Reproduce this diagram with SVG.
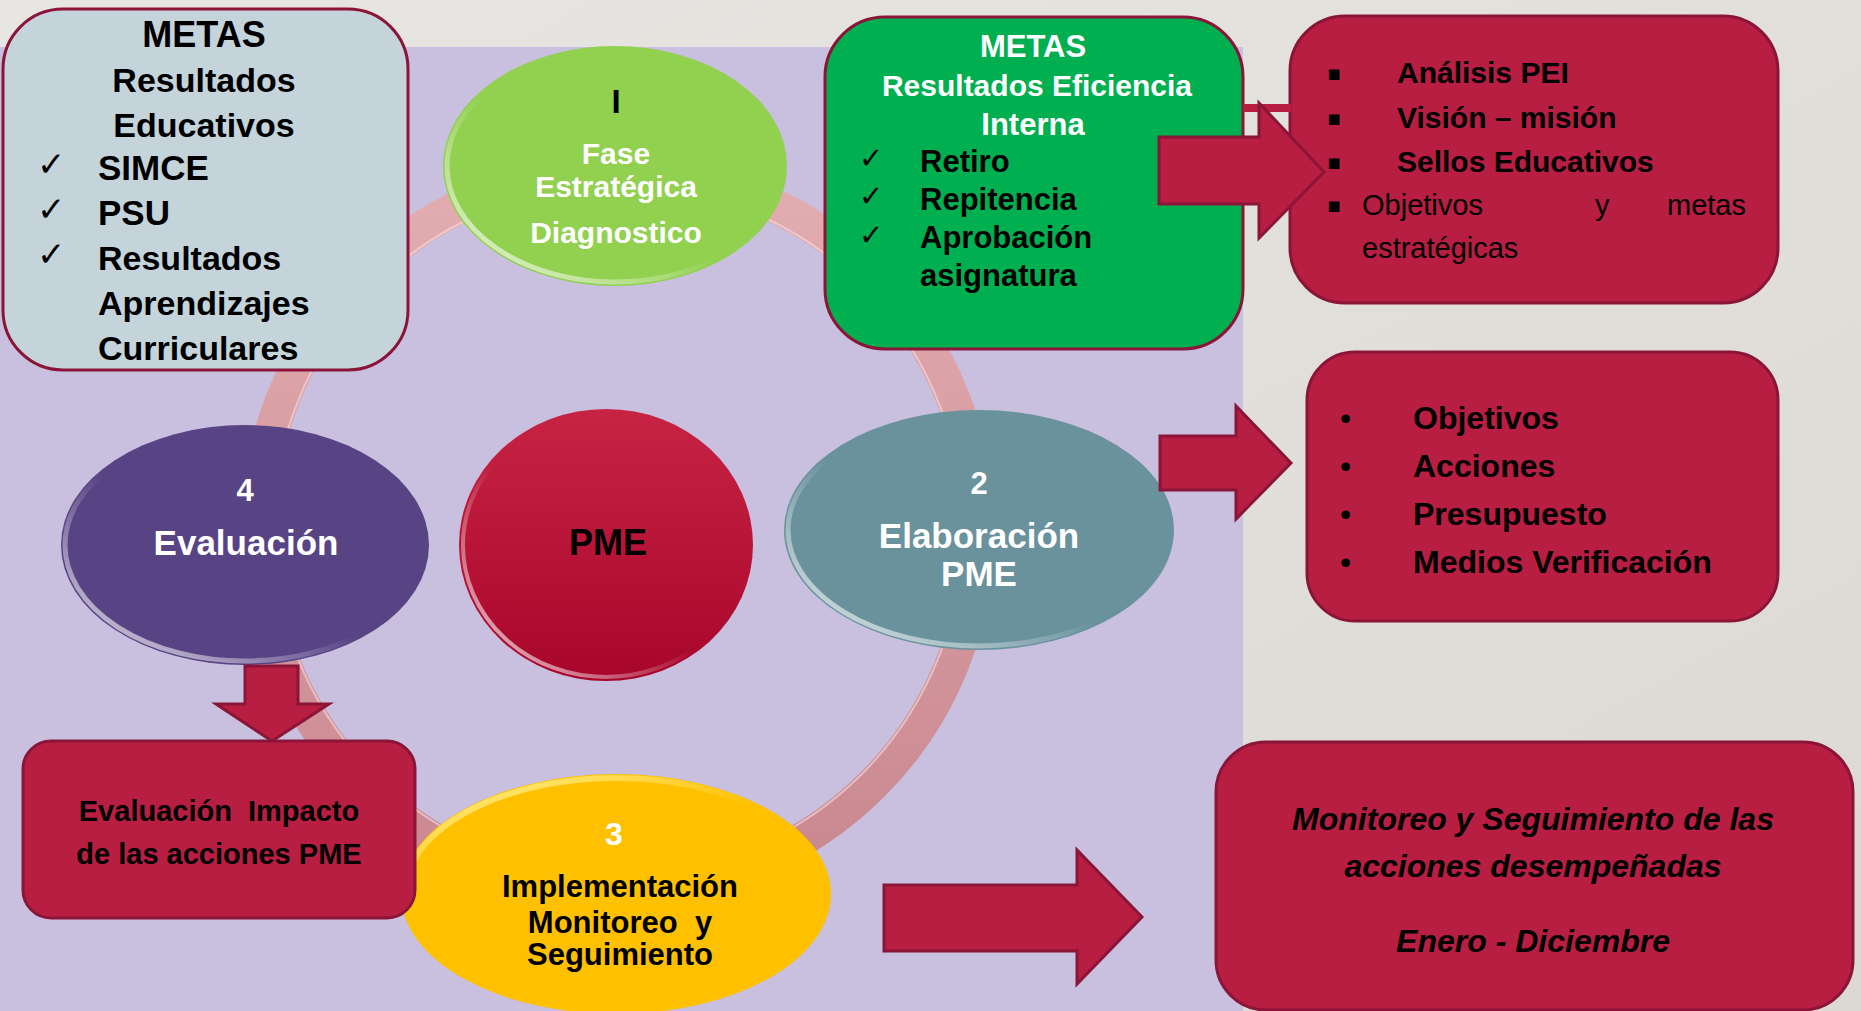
<svg xmlns="http://www.w3.org/2000/svg" width="1861" height="1011" viewBox="0 0 1861 1011">
<defs>
<style>
.t{font-family:"Liberation Sans",Arial,sans-serif;font-weight:bold;fill:#000}
.w{fill:#fff}
.r{font-weight:normal}
.i{font-style:italic}
.m{text-anchor:middle}
.ck{font-family:"DejaVu Sans",sans-serif;font-weight:bold;fill:#000}
.sq{font-family:"DejaVu Sans",sans-serif;font-weight:normal;fill:#000}
.box{stroke:#8a1538;stroke-width:3}
.red{fill:#b81d42}
.arrow{fill:#b81d42;stroke:#8a1538;stroke-width:3;stroke-linejoin:miter}
</style>
<linearGradient id="bg" x1="0" y1="0" x2="1" y2="1">
<stop offset="0" stop-color="#e8e6e2"/>
<stop offset="1" stop-color="#dcd9d3"/>
</linearGradient>
<linearGradient id="ringG" gradientUnits="userSpaceOnUse" x1="0" y1="170" x2="0" y2="890">
<stop offset="0" stop-color="#e2adb1"/>
<stop offset="1" stop-color="#c9878f"/>
</linearGradient>
<linearGradient id="rim" x1="0" y1="1" x2="1" y2="0">
<stop offset="0" stop-color="#fff" stop-opacity="0.85"/>
<stop offset="0.45" stop-color="#fff" stop-opacity="0"/>
</linearGradient>
<linearGradient id="rimTop" x1="0" y1="0" x2="0.6" y2="1">
<stop offset="0" stop-color="#fff7a0" stop-opacity="0.95"/>
<stop offset="0.45" stop-color="#fff7a0" stop-opacity="0"/>
</linearGradient>
<linearGradient id="pmeG" x1="0" y1="0" x2="0" y2="1">
<stop offset="0" stop-color="#c72444"/>
<stop offset="1" stop-color="#a8052b"/>
</linearGradient>
</defs>

<rect x="0" y="0" width="1861" height="1011" fill="url(#bg)"/>
<rect x="0" y="47" width="1243" height="964" fill="#c8c0de"/>

<g id="connectors">
<circle cx="618" cy="530" r="360" fill="none" stroke="url(#ringG)" stroke-width="34"/>
<circle cx="618" cy="530" r="345" fill="none" stroke="#f6dde0" stroke-width="2" opacity="0.6"/>
</g>

<g id="node-fase1">
<ellipse cx="615" cy="166" rx="172" ry="120" fill="#92d050"/>
<ellipse cx="615" cy="166" rx="168" ry="116" fill="none" stroke="url(#rim)" stroke-width="5"/>
<text class="t m" x="616" y="113" font-size="33">I</text>
<text class="t w m" x="616" y="164" font-size="30">Fase</text>
<text class="t w m" x="616" y="197" font-size="30">Estratégica</text>
<text class="t w m" x="616" y="243" font-size="30">Diagnostico</text>
</g>

<g id="node-fase2">
<ellipse cx="979" cy="530" rx="195" ry="120" fill="#6a929d"/>
<ellipse cx="979" cy="530" rx="191" ry="116" fill="none" stroke="url(#rim)" stroke-width="5"/>
<text class="t w m" x="979" y="494" font-size="31">2</text>
<text class="t w m" x="979" y="548" font-size="35">Elaboración</text>
<text class="t w m" x="979" y="586" font-size="35">PME</text>
</g>

<g id="node-fase4">
<ellipse cx="245" cy="545" rx="184" ry="120" fill="#584485"/>
<ellipse cx="245" cy="545" rx="180" ry="116" fill="none" stroke="url(#rim)" stroke-width="5"/>
<text class="t w m" x="245" y="501" font-size="31">4</text>
<text class="t w m" x="246" y="555" font-size="35">Evaluación</text>
</g>

<g id="node-pme">
<ellipse cx="606" cy="545" rx="147" ry="136" fill="url(#pmeG)"/>
<ellipse cx="606" cy="545" rx="143" ry="132" fill="none" stroke="url(#rim)" stroke-width="4"/>
<text class="t m" x="608" y="555" font-size="36">PME</text>
</g>

<g id="node-fase3">
<ellipse cx="616" cy="894" rx="215" ry="120" fill="#ffc000"/>
<ellipse cx="616" cy="894" rx="211" ry="116" fill="none" stroke="url(#rimTop)" stroke-width="6"/>
<text class="t w m" x="614" y="845" font-size="32">3</text>
<text class="t m" x="620" y="897" font-size="31">Implementación</text>
<text class="t m" x="620" y="933" font-size="31" style="white-space:pre">Monitoreo  y</text>
<text class="t m" x="620" y="965" font-size="31">Seguimiento</text>
</g>

<g id="node-metas-educativos">
<rect class="box" x="3" y="9" width="405" height="361" rx="60" fill="#c4d4da"/>
<text class="t m" x="204" y="47" font-size="36">METAS</text>
<text class="t m" x="204" y="92" font-size="34">Resultados</text>
<text class="t m" x="204" y="137" font-size="34">Educativos</text>
<text class="ck" x="37" y="176" font-size="34">✓</text>
<text class="t" x="98" y="180" font-size="35">SIMCE</text>
<text class="ck" x="37" y="221" font-size="34">✓</text>
<text class="t" x="98" y="225" font-size="35">PSU</text>
<text class="ck" x="37" y="266" font-size="34">✓</text>
<text class="t" x="98" y="270" font-size="34">Resultados</text>
<text class="t" x="98" y="315" font-size="34">Aprendizajes</text>
<text class="t" x="98" y="360" font-size="34">Curriculares</text>
</g>

<g id="node-metas-eficiencia">
<rect class="box" x="825" y="17" width="418" height="332" rx="60" fill="#00b050"/>
<text class="t w m" x="1033" y="57" font-size="31">METAS</text>
<text class="t w m" x="1037" y="96" font-size="30">Resultados Eficiencia</text>
<text class="t w m" x="1033" y="135" font-size="31">Interna</text>
<text class="ck" x="859" y="168" font-size="29">✓</text>
<text class="t" x="920" y="172" font-size="31">Retiro</text>
<text class="ck" x="859" y="206" font-size="29">✓</text>
<text class="t" x="920" y="210" font-size="31">Repitencia</text>
<text class="ck" x="859" y="245" font-size="29">✓</text>
<text class="t" x="920" y="248" font-size="31">Aprobación</text>
<text class="t" x="920" y="286" font-size="31">asignatura</text>
</g>

<g id="node-analisis">
<rect class="box red" x="1290" y="16" width="488" height="287" rx="55"/>
<text class="sq" x="1327" y="80" font-size="21">▪</text>
<text class="t" x="1397" y="83" font-size="30">Análisis PEI</text>
<text class="sq" x="1327" y="125" font-size="21">▪</text>
<text class="t" x="1397" y="128" font-size="30">Visión – misión</text>
<text class="sq" x="1327" y="169" font-size="21">▪</text>
<text class="t" x="1397" y="172" font-size="30">Sellos Educativos</text>
<text class="sq" x="1327" y="212" font-size="21">▪</text>
<text class="t r" x="1362" y="215" font-size="29">Objetivos</text>
<text class="t r" x="1595" y="215" font-size="29">y</text>
<text class="t r" x="1667" y="215" font-size="29">metas</text>
<text class="t r" x="1362" y="258" font-size="29">estratégicas</text>
</g>

<g id="node-elaboracion">
<rect class="box red" x="1307" y="352" width="471" height="269" rx="48"/>
<text class="t r" x="1340" y="429" font-size="32">•</text>
<text class="t" x="1413" y="429" font-size="32">Objetivos</text>
<text class="t r" x="1340" y="477" font-size="32">•</text>
<text class="t" x="1413" y="477" font-size="32">Acciones</text>
<text class="t r" x="1340" y="525" font-size="32">•</text>
<text class="t" x="1413" y="525" font-size="32">Presupuesto</text>
<text class="t r" x="1340" y="573" font-size="32">•</text>
<text class="t" x="1413" y="573" font-size="32">Medios Verificación</text>
</g>

<g id="node-monitoreo">
<rect class="box red" x="1216" y="742" width="637" height="268" rx="50"/>
<text class="t i m" x="1533" y="830" font-size="32">Monitoreo y Seguimiento de las</text>
<text class="t i m" x="1533" y="877" font-size="32">acciones desempeñadas</text>
<text class="t i m" x="1533" y="952" font-size="32">Enero - Diciembre</text>
</g>

<g id="node-evaluacion-impacto">
<rect class="box red" x="23" y="741" width="392" height="177" rx="28"/>
<text class="t m" x="219" y="821" font-size="29" style="white-space:pre">Evaluación  Impacto</text>
<text class="t m" x="219" y="864" font-size="29">de las acciones PME</text>
</g>

<g id="arrows">
<rect x="1243" y="104" width="48" height="8" fill="#b81d42"/>
<polygon class="arrow" points="1159,137 1259,137 1259,103 1324,172 1259,238 1259,204 1159,204"/>
<polygon class="arrow" points="1160,436 1236,436 1236,406 1291,463 1236,519 1236,490 1160,490"/>
<polygon class="arrow" points="884,885 1077,885 1077,850 1142,917 1077,984 1077,951 884,951"/>
<polygon class="arrow" points="245,666 298,666 298,704 329,704 272,741 216,704 245,704"/>
</g>
</svg>
